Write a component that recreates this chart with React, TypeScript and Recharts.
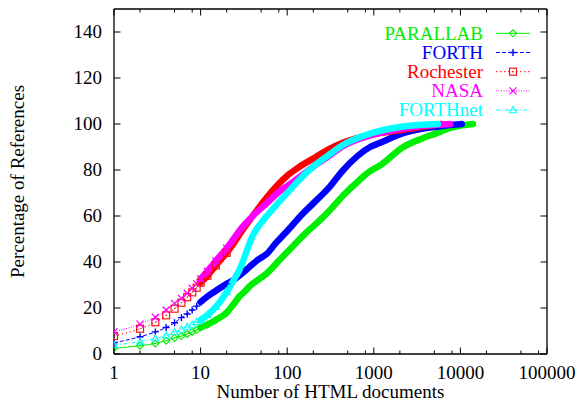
import React from 'react';
import { LineChart, Line, XAxis, YAxis } from 'recharts';

// ---- data ----
const parallabX = [1,2,3,4,5,6,7,8,9,10,12,15,20,22,25,28,32,37,45,58,80,100,140,168,200,311,445,700,906,1180,2190,3500,5320,8000,14000];
const parallabY = [2.5,3.6,4.6,5.8,7.0,7.8,8.7,9.6,10.4,11.5,12.8,14.8,18,19.8,22.5,25,27,29.5,32,35,40.5,44.3,50,53,55.5,62.5,69,76,79.5,82,90,93.5,96,98.5,100];

const forthX = [1,2,3,4,5,6,7,8,9,10,12,15,20,24,30,37,46,58,75,100,140,200,311,445,906,1180,2190,4000,7000,10350];
const forthY = [4.9,7.5,9.6,11.5,13.6,15.8,17.4,19.1,20.8,22.6,25,27.5,30.5,32.2,35,38,41,43.5,48.5,53.5,59.7,65.5,72.8,80,90,91.8,96,98.2,99.4,100];

const rochesterX = [1,2,3,4,5,6,7,8,9,10,12,15,20,24,30,40,58,80,100,140,200,300,445,906,2190,4000,6000];
const rochesterY = [7.8,11,13.8,16.8,19.7,22.3,24.7,26.8,28.8,31,34,38.5,44,48,53.5,60,68,74,77.5,81.5,85,89,92,95.3,97.5,99,100];

const nasaX = [1,2,3,4,5,6,7,8,9,10,12,15,20,24,30,40,58,80,100,140,200,300,445,906,2190,4000,7600];
const nasaY = [9.7,13,16,19.1,22,24.2,26.4,28.6,30.6,32.6,36,40.5,46,50,55,60,65.5,70.5,73,77,81.5,86,90.5,95,98,99.3,100];

const forthnetX = [1,2,3,4,5,6,7,8,9,10,12,15,20,24,28,31,35,40,50,58,80,100,140,200,300,445,906,2190,5500];
const forthnetY = [3.9,5.4,6.8,8.1,9.6,10.7,11.9,12.8,14,14.8,17,20.5,27,32,36.5,40.5,46,51.5,57,60,66,70,76,81.5,86.5,91,95.8,98.9,100];

const seriesNames = ['PARALLAB', 'FORTH', 'Rochester', 'NASA', 'FORTHnet'];
const majorXTicks = [1, 10, 100, 1000, 10000, 100000];
const minorMultipliers = [2, 5, 8];
const yTicks = [0, 20, 40, 60, 80, 100, 120, 140];

// ---- styling ----
const FONT = '"Liberation Serif", "Times New Roman", serif';
const FS = 19;

type Kind = 'diamond' | 'plus' | 'square' | 'cross' | 'triangle';
const styles: { color: string; dash?: string; kind: Kind }[] = [
  { color: '#00ee00', dash: undefined, kind: 'diamond' },
  { color: '#0000ff', dash: '4 2', kind: 'plus' },
  { color: '#ff0000', dash: '1.5 2.5', kind: 'square' },
  { color: '#ff00ff', dash: '1 1.5', kind: 'cross' },
  { color: '#00ffff', dash: '4 2 1 2', kind: 'triangle' },
];

const allSeries = [
  [parallabX, parallabY],
  [forthX, forthY],
  [rochesterX, rochesterY],
  [nasaX, nasaY],
  [forthnetX, forthnetY],
].map(([xs, ys], i) => {
  const pts = xs.map((x, j) => ({ x, y: ys[j] }));
  return {
    name: seriesNames[i],
    ...styles[i],
    all: pts,
    sparse: pts.filter((p) => p.x <= 20),
    band: pts.filter((p) => p.x >= 10),
  };
});

const minorXTicks: number[] = [];
majorXTicks.slice(0, -1).forEach((m) => minorMultipliers.forEach((k) => minorXTicks.push(m * k)));
const allXTicks = [...majorXTicks, ...minorXTicks].sort((a, b) => a - b);

function Marker({ kind, cx, cy, color, s = 3.5 }: { kind: Kind; cx: number; cy: number; color: string; s?: number }) {
  const sw = 1.1;
  let shape: React.ReactNode = null;
  switch (kind) {
    case 'diamond':
      shape = <path d={`M${cx},${cy - s}L${cx + s},${cy}L${cx},${cy + s}L${cx - s},${cy}Z`} fill="none" stroke={color} strokeWidth={sw} />;
      break;
    case 'plus':
      shape = <path d={`M${cx - s},${cy}H${cx + s}M${cx},${cy - s}V${cy + s}`} fill="none" stroke={color} strokeWidth={sw + 0.3} />;
      break;
    case 'square':
      shape = <rect x={cx - s} y={cy - s} width={2 * s} height={2 * s} fill="none" stroke={color} strokeWidth={sw} />;
      break;
    case 'cross':
      shape = <path d={`M${cx - s},${cy - s}L${cx + s},${cy + s}M${cx + s},${cy - s}L${cx - s},${cy + s}`} fill="none" stroke={color} strokeWidth={sw + 0.2} />;
      break;
    case 'triangle':
      shape = <path d={`M${cx},${cy - s}L${cx + s},${cy + s * 0.75}L${cx - s},${cy + s * 0.75}Z`} fill="none" stroke={color} strokeWidth={sw} />;
      break;
  }
  return (
    <g>
      {shape}
      <rect x={cx - 0.5} y={cy - 0.5} width={1} height={1} fill={color} />
    </g>
  );
}

const makeDot = (kind: Kind, color: string) => (p: any) => (
  <Marker key={`d-${p.index}`} kind={kind} cx={p.cx} cy={p.cy} color={color} />
);

const BottomTick = (p: any) => {
  const v = p.payload.value;
  const major = majorXTicks.includes(v);
  return (
    <g>
      <line x1={p.x} x2={p.x} y1={p.y} y2={p.y - (major ? 6.5 : 3.5)} stroke="#000" strokeWidth={1} />
      {major && (
        <text x={p.x} y={p.y + 25} textAnchor="middle" fontSize={FS} fontFamily={FONT} fill="#000">
          {v}
        </text>
      )}
    </g>
  );
};

const TopTick = (p: any) => {
  const v = p.payload.value;
  const major = majorXTicks.includes(v);
  return <line x1={p.x} x2={p.x} y1={p.y} y2={p.y + (major ? 6.5 : 3.5)} stroke="#000" strokeWidth={1} />;
};

const LeftTick = (p: any) => (
  <g>
    <line x1={p.x} x2={p.x + 6.5} y1={p.y} y2={p.y} stroke="#000" strokeWidth={1} />
    <text x={p.x - 12} y={p.y + 6.3} textAnchor="end" fontSize={FS} fontFamily={FONT} fill="#000">
      {p.payload.value}
    </text>
  </g>
);

const RightTick = (p: any) => <line x1={p.x} x2={p.x - 6.5} y1={p.y} y2={p.y} stroke="#000" strokeWidth={1} />;

const axisLine = { stroke: '#000', strokeWidth: 1.3 };
const xCommon = {
  type: 'number' as const,
  dataKey: 'x',
  scale: 'log' as const,
  domain: [1, 100000],
  allowDataOverflow: true,
  ticks: allXTicks,
  interval: 0,
  tickSize: 0,
  tickMargin: 0,
  tickLine: false,
  axisLine,
};
const yCommon = {
  type: 'number' as const,
  domain: [0, 150],
  allowDataOverflow: true,
  ticks: yTicks,
  interval: 0,
  tickSize: 0,
  tickMargin: 0,
  tickLine: false,
  axisLine,
};

const legendRowY = [33.3, 52.5, 71.7, 90.9, 110.1];

export default function App() {
  return (
    <div style={{ position: 'absolute', left: 0, top: 0, width: 577, height: 402, background: '#fff' }}>
      <LineChart width={577} height={402} margin={{ top: 8, right: 29, bottom: 0, left: 0 }}>
        <XAxis xAxisId="b" orientation="bottom" height={48} tick={<BottomTick />} {...xCommon} />
        <XAxis xAxisId="t" orientation="top" height={1} tick={<TopTick />} {...xCommon} />
        <YAxis yAxisId="l" orientation="left" width={114} tick={<LeftTick />} {...yCommon} />
        <YAxis yAxisId="r" orientation="right" width={1} tick={<RightTick />} {...yCommon} />
        {/* invisible series so that the frame axes (top/right) get a domain and render */}
        <Line
          xAxisId="t"
          yAxisId="r"
          data={allSeries[0].all}
          dataKey="y"
          stroke="none"
          strokeOpacity={0}
          dot={false}
          activeDot={false}
          isAnimationActive={false}
          legendType="none"
        />
        {allSeries.map((s) => [
          <Line
            key={`${s.name}-band`}
            xAxisId="b"
            yAxisId="l"
            type="monotone"
            data={s.band}
            dataKey="y"
            stroke={s.color}
            strokeWidth={6.5}
            strokeLinecap="round"
            strokeLinejoin="round"
            dot={false}
            activeDot={false}
            isAnimationActive={false}
            legendType="none"
          />,
          <Line
            key={`${s.name}-sparse`}
            xAxisId="b"
            yAxisId="l"
            type="monotone"
            data={s.sparse}
            dataKey="y"
            stroke={s.color}
            strokeWidth={1}
            strokeDasharray={s.dash}
            dot={makeDot(s.kind, s.color)}
            activeDot={false}
            isAnimationActive={false}
            legendType="none"
          />,
        ])}
      </LineChart>
      <svg width={577} height={402} style={{ position: 'absolute', left: 0, top: 0, pointerEvents: 'none' }}>
        <text x={330.5} y={398} textAnchor="middle" fontSize={FS} fontFamily={FONT} fill="#000">
          Number of HTML documents
        </text>
        <text x={24} y={181.5} transform="rotate(-90 24 181.5)" textAnchor="middle" fontSize={FS} fontFamily={FONT} fill="#000">
          Percentage of References
        </text>
        {allSeries.map((s, i) => (
          <g key={s.name}>
            <text x={483} y={legendRowY[i] + 6.3} textAnchor="end" fontSize={FS} fontFamily={FONT} fill={s.color}>
              {s.name}
            </text>
            <line x1={496} x2={530} y1={legendRowY[i]} y2={legendRowY[i]} stroke={s.color} strokeWidth={1} strokeDasharray={s.dash} />
            <Marker kind={s.kind} cx={513} cy={legendRowY[i]} color={s.color} />
          </g>
        ))}
      </svg>
    </div>
  );
}
